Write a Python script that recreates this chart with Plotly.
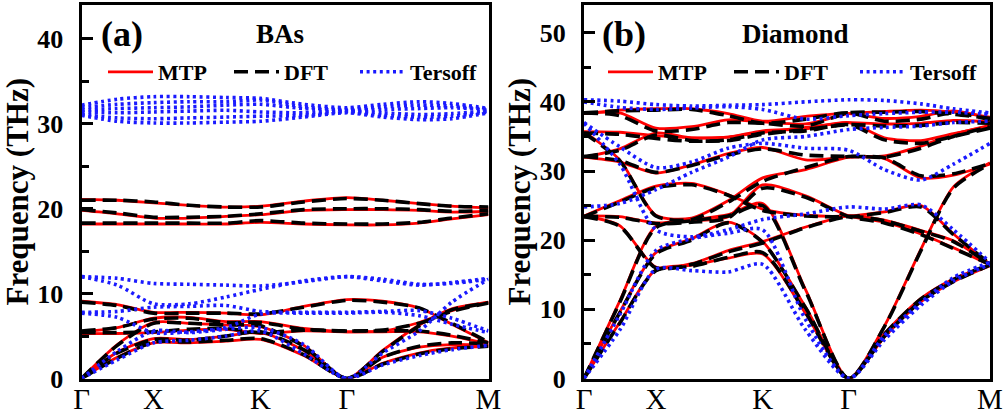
import plotly.graph_objects as go

# ---------------- data ----------------
kpath = [0, 0.088, 0.177, 0.265, 0.355, 0.44, 0.546, 0.652, 0.74, 0.83, 0.91, 1.0]
kpt_pos = [0, 0.177, 0.44, 0.652, 1.0]
kpt_labels = ["Γ", "X", "K", "Γ", "M"]

# (a) BAs, frequencies in THz along kpath
bas_dft = [
    [21.0, 21.0, 20.8, 20.4, 20.2, 20.2, 20.8, 21.2, 21.0, 20.6, 20.3, 20.2],
    [19.9, 19.5, 19.0, 19.0, 19.1, 19.4, 19.9, 20.0, 20.0, 19.9, 19.7, 19.8],
    [18.3, 18.3, 18.3, 18.3, 18.3, 18.6, 18.3, 18.2, 18.2, 18.4, 18.9, 19.4],
    [9.0, 8.6, 7.7, 7.7, 7.7, 7.6, 8.4, 9.2, 9.0, 8.3, 6.5, 4.3],
    [5.6, 6.0, 7.0, 7.1, 6.6, 6.6, 5.8, 5.6, 5.6, 5.6, 5.1, 4.2],
    [5.4, 5.4, 5.5, 5.8, 5.9, 5.4, 5.7, 5.6, 5.7, 6.5, 7.9, 8.9],
    [0, 3.9, 6.5, 6.5, 6.3, 6.2, 3.8, 0, 3.2, 6.2, 8.1, 8.9],
    [0, 3.0, 4.6, 4.5, 5.0, 5.5, 3.4, 0, 2.5, 3.8, 4.2, 4.1],
    [0, 2.4, 4.3, 4.3, 4.5, 4.7, 2.8, 0, 1.7, 2.9, 3.5, 3.8],
]
bas_mtp = [
    [21.1, 21.0, 20.7, 20.4, 20.2, 20.3, 20.9, 21.3, 21.0, 20.6, 20.3, 20.1],
    [19.8, 19.4, 18.9, 18.9, 19.1, 19.3, 19.8, 19.9, 19.9, 19.8, 19.6, 19.7],
    [18.2, 18.2, 18.2, 18.2, 18.2, 18.4, 18.2, 18.1, 18.1, 18.3, 18.8, 19.3],
    [9.1, 8.7, 7.8, 7.8, 7.7, 7.5, 8.5, 9.3, 9.1, 8.3, 6.4, 4.2],
    [5.5, 6.0, 7.1, 7.2, 6.7, 6.7, 5.9, 5.5, 5.5, 5.5, 5.0, 4.1],
    [5.3, 5.3, 5.4, 5.7, 5.8, 5.3, 5.6, 5.5, 5.6, 6.6, 8.0, 9.0],
    [0, 4.0, 6.6, 6.5, 6.3, 6.1, 3.9, 0, 3.3, 6.3, 8.2, 9.0],
    [0, 3.1, 4.7, 4.6, 5.0, 5.4, 3.3, 0, 2.5, 3.7, 4.0, 3.9],
    [0, 2.5, 4.2, 4.2, 4.4, 4.6, 2.7, 0, 1.8, 3.0, 3.6, 3.8],
]
bas_tersoff = [
    [32.2, 32.9, 33.2, 33.2, 33.1, 33.0, 32.3, 31.9, 32.3, 32.6, 32.4, 31.8],
    [31.9, 32.3, 32.5, 32.6, 32.6, 32.8, 32.0, 31.7, 32.0, 32.2, 32.1, 31.7],
    [31.6, 31.8, 31.9, 32.0, 32.2, 32.3, 31.8, 31.6, 31.7, 31.8, 31.9, 31.6],
    [31.4, 31.3, 31.4, 31.5, 31.6, 31.4, 31.3, 31.5, 31.3, 31.1, 31.2, 31.5],
    [31.1, 30.7, 30.6, 30.7, 30.8, 30.9, 31.0, 31.4, 31.0, 30.8, 30.9, 31.4],
    [31.0, 30.3, 30.1, 30.1, 30.2, 30.3, 30.8, 31.3, 30.8, 30.5, 30.6, 31.3],
    [12.0, 11.8, 11.2, 11.1, 11.0, 10.9, 11.4, 12.0, 11.7, 11.1, 11.2, 11.7],
    [12.0, 11.0, 8.8, 8.8, 9.6, 10.5, 11.5, 12.0, 11.5, 11.0, 11.3, 11.8],
    [7.8, 7.9, 8.4, 8.5, 8.6, 7.9, 7.8, 7.8, 7.9, 8.0, 7.1, 5.6],
    [7.7, 7.2, 5.4, 5.5, 6.0, 7.6, 7.7, 7.7, 7.8, 7.4, 6.4, 5.4],
    [0, 3.2, 5.6, 5.4, 5.8, 6.0, 4.0, 0, 3.0, 5.6, 9.0, 11.7],
    [0, 2.2, 4.2, 4.5, 5.0, 5.6, 2.9, 0, 1.6, 2.7, 3.4, 3.9],
]

# (b) Diamond, frequencies in THz along kpath
dia_dft = [
    [0, 8.0, 15.6, 16.2, 17.5, 18.2, 9.5, 0, 6.1, 11.2, 14.0, 16.4],
    [0, 9.5, 18.0, 20.0, 22.5, 19.7, 10.2, 0, 6.4, 11.5, 14.3, 16.5],
    [0, 11.0, 21.8, 22.8, 23.5, 25.0, 12.6, 0, 7.5, 18.5, 27.5, 31.0],
    [23.4, 22.0, 16.0, 16.5, 18.3, 19.6, 21.8, 23.4, 22.8, 21.3, 19.8, 16.5],
    [23.4, 25.5, 27.6, 28.0, 26.5, 24.3, 23.5, 23.4, 24.0, 24.8, 20.8, 16.6],
    [23.4, 23.3, 22.4, 22.6, 23.2, 27.5, 26.2, 23.4, 22.5, 20.8, 18.8, 16.5],
    [32.1, 31.5, 29.8, 30.8, 32.3, 33.2, 32.3, 32.1, 31.9, 29.3, 29.6, 31.1],
    [32.1, 33.0, 35.2, 34.4, 34.4, 35.3, 36.0, 36.7, 36.5, 36.6, 37.0, 36.9],
    [35.5, 31.5, 23.5, 23.0, 25.5, 28.5, 30.5, 32.1, 32.0, 33.3, 35.0, 36.4],
    [35.5, 35.3, 34.7, 34.3, 34.5, 35.5, 35.8, 36.7, 34.5, 34.0, 35.0, 36.2],
    [38.4, 38.0, 35.8, 36.0, 37.0, 36.9, 36.5, 38.4, 38.5, 38.6, 38.2, 37.6],
    [38.4, 38.7, 38.8, 38.9, 38.0, 36.9, 37.5, 38.4, 37.2, 37.5, 38.4, 37.4],
]
dia_mtp = [
    [0, 8.1, 15.7, 16.4, 17.4, 18.0, 9.4, 0, 6.0, 11.1, 14.0, 16.3],
    [0, 9.6, 18.2, 20.2, 22.6, 19.8, 10.3, 0, 6.5, 11.6, 14.4, 16.4],
    [0, 11.2, 22.0, 22.9, 23.7, 25.3, 12.8, 0, 7.6, 18.7, 27.7, 31.2],
    [23.5, 22.1, 16.1, 16.6, 18.5, 19.8, 21.9, 23.5, 22.9, 21.4, 19.9, 16.4],
    [23.5, 25.7, 27.8, 28.2, 26.6, 24.5, 23.6, 23.5, 24.1, 25.0, 20.9, 16.5],
    [23.5, 23.4, 22.5, 22.8, 23.4, 28.0, 26.4, 23.5, 22.6, 20.9, 18.9, 16.4],
    [32.0, 31.3, 29.7, 30.9, 32.5, 33.4, 31.6, 32.0, 31.8, 29.0, 29.4, 31.0],
    [32.0, 33.2, 35.5, 34.8, 34.9, 35.6, 36.3, 37.0, 36.8, 36.9, 37.3, 37.1],
    [35.7, 31.6, 23.6, 23.2, 25.7, 29.0, 30.2, 32.0, 32.2, 33.6, 35.3, 36.6],
    [35.7, 35.6, 35.1, 34.8, 34.9, 35.8, 36.1, 37.0, 34.8, 34.4, 35.4, 36.5],
    [38.3, 38.4, 36.2, 36.4, 37.4, 37.1, 36.8, 38.3, 38.6, 38.8, 38.5, 37.8],
    [38.3, 38.8, 39.0, 39.0, 38.3, 37.2, 37.9, 38.3, 37.6, 37.9, 38.7, 37.6],
]
dia_tersoff = [
    [40.3, 40.1, 39.6, 39.4, 39.5, 39.6, 40.0, 40.3, 40.2, 39.7, 39.0, 38.4],
    [40.0, 39.2, 38.9, 39.1, 39.3, 38.9, 37.5, 38.0, 38.3, 38.5, 38.5, 38.2],
    [36.9, 31.0, 21.5, 20.5, 21.5, 23.0, 23.8, 24.8, 24.5, 25.1, 21.5, 16.8],
    [24.8, 25.3, 27.3, 29.8, 32.0, 34.5, 35.0, 36.0, 36.3, 36.5, 37.0, 37.2],
    [37.0, 33.5, 30.5, 31.3, 33.3, 34.0, 33.3, 33.0, 30.2, 28.7, 31.0, 34.0],
    [0, 9.2, 18.5, 20.2, 21.0, 21.5, 8.5, 0, 6.2, 11.0, 14.6, 16.8],
    [0, 7.0, 15.8, 15.6, 15.4, 16.5, 7.0, 0, 5.6, 10.6, 14.1, 16.5],
]

series_names = ["MTP", "DFT", "Tersoff"]
series_colors = ["#ff0000", "#000000", "#1a1aff"]
series_widths = [2.8, 3.6, 3.6]
series_dash = ["solid", "14px,7px", "3px,3.6px"]

FONT = "Liberation Serif, Times New Roman, serif"

fig = go.Figure()

panels = [
    ("x", "y", "legend", [bas_mtp, bas_dft, bas_tersoff]),
    ("x2", "y2", "legend2", [dia_mtp, dia_dft, dia_tersoff]),
]
for xa, ya, leg, groups in panels:
    for si, bands in enumerate(groups):
        for bi, band in enumerate(bands):
            fig.add_trace(go.Scatter(
                x=kpath, y=band, xaxis=xa, yaxis=ya, mode="lines",
                line=dict(color=series_colors[si], width=series_widths[si],
                          dash=series_dash[si], shape="spline", smoothing=0.75),
                name=series_names[si], legendgroup=leg + series_names[si],
                showlegend=(bi == 0), legend=leg, hoverinfo="skip",
            ))

W, H = 1006, 420
ax_dom = [[81.5 / W, 488.5 / W], [584 / W, 990 / W]]
y_dom = [(H - 378.5) / H, (H - 5) / H]

common_x = dict(range=[0, 1], tickvals=kpt_pos, ticktext=kpt_labels, ticks="",
                showgrid=False, zeroline=False, showline=True, mirror=True,
                linecolor="black", linewidth=3, automargin=False, ticklabelstandoff=-7,
                tickfont=dict(family=FONT, size=29, color="black"))
common_y = dict(dtick=10, ticks="inside", ticklen=11, tickwidth=3, tickcolor="black",
                minor=dict(dtick=5, ticks="inside", ticklen=7, tickwidth=3, tickcolor="black"),
                showgrid=False, zeroline=False, showline=True, mirror=True,
                linecolor="black", linewidth=3, automargin=False, ticklabelstandoff=10,
                tickfont=dict(family=FONT, size=26, color="black", weight="bold"),
                title=dict(text="Frequency (THz)", standoff=0,
                           font=dict(family=FONT, size=31, color="black", weight="bold")))

leg_common = dict(orientation="h", xanchor="left", yanchor="middle",
                  bgcolor="rgba(0,0,0,0)", itemwidth=45, entrywidth=66, tracegroupgap=0,
                  font=dict(family=FONT, size=22, color="black", weight="bold"))

fig.update_layout(
    width=W, height=H, margin=dict(l=0, r=0, t=0, b=0),
    paper_bgcolor="white", plot_bgcolor="white",
    xaxis=dict(domain=ax_dom[0], anchor="y", **common_x),
    xaxis2=dict(domain=ax_dom[1], anchor="y2", **common_x),
    yaxis=dict(domain=y_dom, anchor="x", range=[0, 44], **common_y),
    yaxis2=dict(domain=y_dom, anchor="x2", range=[0, 54], **common_y),
    legend=dict(x=103 / W, y=(H - 72) / H, **leg_common),
    legend2=dict(x=603 / W, y=(H - 72) / H, **leg_common),
    showlegend=True,
)

ann_font_big = dict(family=FONT, size=36, color="black", weight="bold")
ann_font = dict(family=FONT, size=27, color="black", weight="bold")
for txt, xp, fnt in [("(a)", 122, ann_font_big), ("BAs", 280, ann_font),
                     ("(b)", 624, ann_font_big), ("Diamond", 795, ann_font)]:
    fig.add_annotation(text=txt, x=xp / W, y=(H - 34) / H, xref="paper", yref="paper",
                       xanchor="center", yanchor="middle", showarrow=False, font=fnt)

fig.write_html("out.html", config={"displayModeBar": False},
               post_script="document.body.style.margin='0';document.body.style.padding='0';")
